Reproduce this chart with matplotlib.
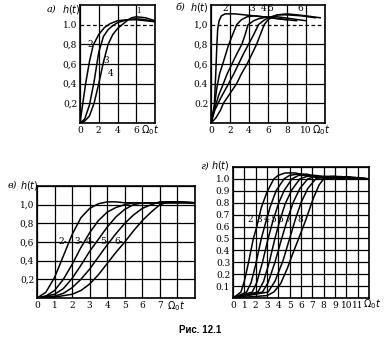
import matplotlib.pyplot as plt
import numpy as np

plt.rcParams['font.family'] = ['DejaVu Serif']

W, H = 385, 347

# ---- panel а: x 0..8, y 0..1.2
a_x2 = [0, 0.3, 0.6, 1.0, 1.4, 2.0, 2.6, 3.2, 4.0, 5.0, 6.0, 7.0, 8.0]
a_y2 = [0, 0.2, 0.4, 0.62, 0.79, 0.9, 0.97, 1.01, 1.04, 1.05, 1.05, 1.04, 1.03]
a_x3 = [0, 0.5, 1.0, 1.5, 2.0, 2.5, 3.0, 3.5, 4.0, 5.0, 6.0, 7.0, 8.0]
a_y3 = [0, 0.04, 0.18, 0.42, 0.72, 0.88, 0.95, 0.99, 1.02, 1.05, 1.06, 1.05, 1.03]
a_x4 = [0, 0.5, 1.0, 1.5, 2.0, 2.5, 3.0, 3.5, 4.0, 4.5, 5.0, 5.5, 6.0, 7.0, 8.0]
a_y4 = [0, 0.02, 0.07, 0.2, 0.4, 0.62, 0.8, 0.9, 0.96, 1.0, 1.04, 1.07, 1.08, 1.07, 1.04]

# ---- panel б: x 0..12, y 0..1.2
b_x2 = [0, 0.2, 0.35, 0.5, 0.6, 0.7, 0.85, 1.1, 1.5, 2.5, 3.5, 4.5, 5.5, 6.5, 8.0]
b_y2 = [0, 0.1, 0.18, 0.5, 0.75, 0.95, 1.04, 1.09, 1.11, 1.11, 1.1, 1.09, 1.08, 1.07, 1.05]
b_x3 = [0, 0.35, 0.6, 0.9, 1.3, 1.8, 2.2, 2.7, 3.2, 3.8, 4.5, 5.5, 7.0, 9.0]
b_y3 = [0, 0.16, 0.35, 0.5, 0.62, 0.78, 0.88, 1.0, 1.05, 1.08, 1.09, 1.08, 1.06, 1.04]
b_x4 = [0, 0.4, 0.8, 1.3, 1.7, 2.2, 2.7, 3.25, 3.6, 3.9, 4.5, 5.0, 6.0, 7.0, 8.5, 10.0]
b_y4 = [0, 0.15, 0.28, 0.4, 0.5, 0.6, 0.7, 0.8, 0.9, 1.0, 1.04, 1.06, 1.08, 1.08, 1.06, 1.04]
b_x5 = [0, 0.4, 1.0, 1.85, 2.4, 2.9, 3.4, 3.95, 4.5, 5.0, 5.5, 6.0, 7.0, 8.0, 9.5, 11.0]
b_y5 = [0, 0.13, 0.25, 0.4, 0.5, 0.6, 0.7, 0.8, 0.9, 1.0, 1.04, 1.07, 1.1, 1.1, 1.09, 1.07]
b_x6 = [0, 0.5, 1.0, 1.3, 2.0, 2.7, 3.2, 3.8, 4.3, 4.8, 5.2, 5.6, 6.0, 6.5, 7.0, 8.0, 9.0, 10.0, 11.5]
b_y6 = [0, 0.05, 0.13, 0.2, 0.3, 0.4, 0.5, 0.6, 0.7, 0.8, 0.9, 1.0, 1.05, 1.08, 1.1, 1.11, 1.1, 1.09, 1.07]

# ---- panel в: x 0..9, y 0..1.2
c_x2 = [0, 0.5, 1.0, 1.5, 2.0, 2.5, 3.0, 3.5, 4.0, 4.5, 5.0, 6.0, 7.0, 8.0, 9.0]
c_y2 = [0, 0.06, 0.22, 0.45, 0.68, 0.86, 0.96, 1.01, 1.03, 1.03, 1.02, 1.02, 1.02, 1.02, 1.02]
c_x3 = [0, 0.5, 1.0, 1.5, 2.0, 2.5, 3.0, 3.5, 4.0, 4.5, 5.0, 5.5, 6.0, 7.0, 8.0, 9.0]
c_y3 = [0, 0.02, 0.08, 0.2, 0.36, 0.54, 0.7, 0.83, 0.92, 0.97, 1.0, 1.02, 1.02, 1.02, 1.02, 1.02]
c_x4 = [0, 1.0, 1.5, 2.0, 2.5, 3.0, 3.5, 4.0, 4.5, 5.0, 5.5, 6.0, 6.5, 7.0, 8.0, 9.0]
c_y4 = [0, 0.04, 0.1, 0.21, 0.35, 0.5, 0.63, 0.76, 0.87, 0.95, 1.0, 1.02, 1.02, 1.02, 1.03, 1.02]
c_x5 = [0, 1.0, 1.5, 2.0, 2.5, 3.0, 3.5, 4.0, 4.5, 5.0, 5.5, 6.0, 6.5, 7.0, 8.0, 9.0]
c_y5 = [0, 0.02, 0.05, 0.11, 0.2, 0.31, 0.44, 0.57, 0.69, 0.8, 0.89, 0.96, 1.0, 1.03, 1.03, 1.02]
c_x6 = [0, 1.0, 2.0, 2.5, 3.0, 3.5, 4.0, 4.5, 5.0, 5.5, 6.0, 6.5, 7.0, 7.5, 8.0, 9.0]
c_y6 = [0, 0.01, 0.04, 0.08, 0.15, 0.25, 0.37, 0.49, 0.6, 0.72, 0.83, 0.92, 1.0, 1.03, 1.03, 1.02]

# ---- panel г: x 0..12, y 0..1.1
d_x2 = [0, 0.7, 1.0, 1.35, 1.8, 2.1, 2.5, 3.0, 3.6, 4.0, 4.6, 5.5, 6.5, 7.5, 9.0, 12.0]
d_y2 = [0, 0.05, 0.14, 0.29, 0.5, 0.6, 0.76, 0.89, 1.0, 1.03, 1.05, 1.05, 1.03, 1.01, 1.0, 1.0]
d_x3 = [0, 1.2, 1.6, 2.0, 2.5, 2.9, 3.3, 3.8, 4.5, 5.0, 5.7, 6.5, 7.5, 8.5, 10.0, 12.0]
d_y3 = [0, 0.05, 0.13, 0.28, 0.5, 0.64, 0.77, 0.9, 1.0, 1.03, 1.04, 1.04, 1.02, 1.0, 1.0, 1.0]
d_x4 = [0, 1.7, 2.1, 2.6, 3.1, 3.5, 4.0, 4.5, 5.2, 5.8, 6.5, 7.5, 8.5, 10.0, 12.0]
d_y4 = [0, 0.05, 0.13, 0.3, 0.5, 0.64, 0.79, 0.9, 1.0, 1.03, 1.03, 1.02, 1.0, 1.0, 1.0]
d_x5 = [0, 2.2, 2.7, 3.2, 3.7, 4.1, 4.6, 5.2, 5.9, 6.5, 7.2, 8.0, 9.0, 10.5, 12.0]
d_y5 = [0, 0.05, 0.14, 0.3, 0.5, 0.64, 0.79, 0.91, 1.0, 1.02, 1.03, 1.02, 1.02, 1.01, 1.0]
d_x6 = [0, 2.6, 3.1, 3.7, 4.3, 4.8, 5.3, 5.9, 6.6, 7.2, 8.0, 9.0, 10.0, 11.0, 12.0]
d_y6 = [0, 0.05, 0.13, 0.3, 0.5, 0.66, 0.8, 0.92, 1.0, 1.02, 1.02, 1.01, 1.02, 1.01, 1.0]
d_x7 = [0, 3.1, 3.7, 4.4, 5.0, 5.5, 6.0, 6.6, 7.3, 8.0, 9.0, 10.0, 11.0, 12.0]
d_y7 = [0, 0.05, 0.14, 0.31, 0.5, 0.66, 0.8, 0.92, 1.0, 1.02, 1.02, 1.01, 1.01, 1.0]
d_x8 = [0, 3.0, 3.6, 4.2, 4.8, 5.3, 5.8, 6.4, 7.1, 7.6, 8.0, 8.6, 9.5, 10.5, 12.0]
d_y8 = [0, 0.02, 0.05, 0.12, 0.25, 0.38, 0.5, 0.65, 0.84, 0.95, 1.0, 1.02, 1.02, 1.01, 1.0]

a_ylabels = ['', '0,2', '0,4', '0,6', '0,8', '1.0']
b_ylabels = ['', '0.2', '0.4', '0,6', '0,8', '1,0']
c_ylabels = ['', '0,2', '0,4', '0,6', '0,8', '1,0']
d_ylabels = ['', '0.1', '0.2', '0.3', '0.4', '0.5', '0.6', '0.7', '0.8', '0.9', '1.0']

fig = plt.figure(figsize=(W / 100, H / 100), dpi=100)


def box(l, t, r, b):
    return fig.add_axes([l / W, 1 - b / H, (r - l) / W, (b - t) / H])


def setup(ax, xmax, ymax, xstep, ystep, xlabels, ylabels, dashed_one=False):
    ax.set_xlim(0, xmax)
    ax.set_ylim(0, ymax)
    ax.set_xticks(np.arange(0, xmax + 1e-6, xstep))
    ax.set_yticks(np.arange(0, ymax + 1e-6, ystep))
    ax.grid(True, color='black', lw=0.9)
    if dashed_one:
        ax.set_yticks(np.arange(0, 1.0 + 1e-6, ystep))
    for s in ax.spines.values():
        s.set_linewidth(1.2)
    ax.tick_params(length=0, labelsize=6.5, pad=2)
    ax.set_xticklabels(xlabels)
    ax.set_yticklabels(ylabels)


lw = 1.1

# а
ax = box(80, 5, 155, 123)
setup(ax, 8, 1.2, 2, 0.2, ['0', '2', '4', '6', ''], a_ylabels, True)
ax.yaxis.get_gridlines()[-1].set_visible(False)
ax.axhline(1.0, color='black', lw=0.9, ls=(0, (3, 2)))
for x, y in [(a_x2, a_y2), (a_x3, a_y3), (a_x4, a_y4)]:
    ax.plot(x, y, color='black', lw=lw)
ax.text(0.6, 0.8, '-2', fontsize=6.5, va='center')
ax.text(2.45, 0.64, '3', fontsize=6.5, va='center')
ax.text(3.0, 0.5, '4', fontsize=6.5, va='center')
ax.text(6.0, 1.14, '1', fontsize=5, va='center')
ax.text(7.5, -0.07, r'$\Omega_0 t$', fontsize=7, ha='center', va='center', clip_on=False)
fig.text(47 / W, 1 - 9 / H, 'а)', fontsize=7, style='italic', va='center')
fig.text(62 / W, 1 - 9 / H, r'$h(t)$', fontsize=7, va='center')

# б
ax = box(211, 5, 325, 123)
setup(ax, 12, 1.2, 2, 0.2, ['0', '2', '4', '6', '8', '10', ''], b_ylabels, True)
ax.yaxis.get_gridlines()[-1].set_visible(False)
ax.axhline(1.0, color='black', lw=0.9, ls=(0, (3, 2)))
for x, y in [(b_x2, b_y2), (b_x3, b_y3), (b_x4, b_y4), (b_x5, b_y5), (b_x6, b_y6)]:
    ax.plot(x, y, color='black', lw=lw)
for lab, xx in [('2', 1.5), ('3', 4.3), ('4', 5.5), ('5', 6.2), ('6', 9.4)]:
    ax.text(xx, 1.16, lab, fontsize=6.5, ha='center', va='center')
ax.text(11.6, -0.07, r'$\Omega_0 t$', fontsize=7, ha='center', va='center', clip_on=False)
fig.text(176 / W, 1 - 7 / H, 'б)', fontsize=7, style='italic', va='center')
fig.text(190 / W, 1 - 7 / H, r'$h(t)$', fontsize=7, va='center')

# в
ax = box(37, 186, 195, 298)
setup(ax, 9, 1.2, 1, 0.2, ['0', '1', '2', '3', '4', '5', '6', '7', '', ''], c_ylabels + [''])
for x, y in [(c_x2, c_y2), (c_x3, c_y3), (c_x4, c_y4), (c_x5, c_y5), (c_x6, c_y6)]:
    ax.plot(x, y, color='black', lw=lw)
for lab, xx in [('2', 1.45), ('3', 2.35), ('4', 3.05), ('5', 3.85), ('6', 4.65)]:
    ax.text(xx, 0.6, lab + '-', fontsize=6.5, ha='center', va='center')
ax.text(7.9, -0.09, r'$\Omega_0 t$', fontsize=7, ha='center', va='center', clip_on=False)
fig.text(8 / W, 1 - 185 / H, 'в)', fontsize=7, style='italic', va='center')
fig.text(20 / W, 1 - 185 / H, r'$h(t)$', fontsize=7, va='center')

# г
ax = box(233, 167, 369, 298)
setup(ax, 12, 1.1, 1, 0.1, [str(i) for i in range(12)] + [''], d_ylabels + [''])
for x, y in [(d_x2, d_y2), (d_x3, d_y3), (d_x4, d_y4), (d_x5, d_y5),
             (d_x6, d_y6), (d_x7, d_y7), (d_x8, d_y8)]:
    ax.plot(x, y, color='black', lw=lw)
for lab, xx in [('2', 1.55), ('3', 2.3), ('4', 2.95), ('5', 3.55), ('6', 4.2), ('7', 4.9), ('8', 5.9)]:
    ax.text(xx, 0.66, lab, fontsize=6.5, ha='center', va='center')
ax.text(12.3, -0.05, r'$\Omega_0 t$', fontsize=7, ha='center', va='center', clip_on=False)
fig.text(200 / W, 1 - 166 / H, 'г)', fontsize=7, style='italic', va='center')
fig.text(211 / W, 1 - 166 / H, r'$h(t)$', fontsize=7, va='center')

fig.text(200 / W, 1 - 330 / H, 'Рис. 12.1', fontsize=7, fontweight='bold',
         family='Liberation Sans', ha='center', va='center')

fig.savefig('out.png', dpi=100)
